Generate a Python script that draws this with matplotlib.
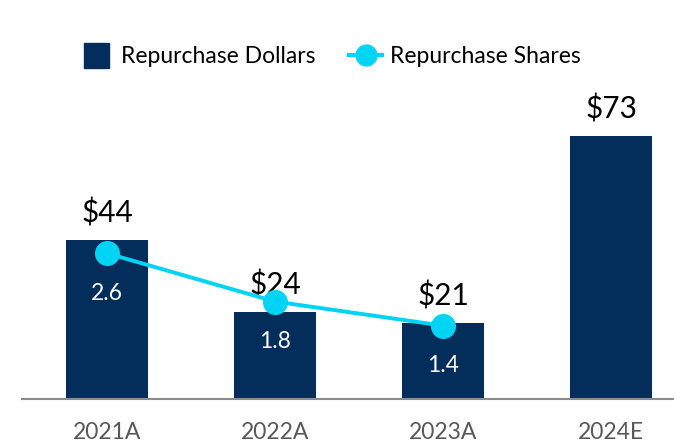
import matplotlib.pyplot as plt
from matplotlib.lines import Line2D

# data
years = ["2021A", "2022A", "2023A", "2024E"]
dollars = [44, 24, 21, 73]
share_years = ["2021A", "2022A", "2023A"]
shares = [2.6, 1.8, 1.4]

navy = "#032D5A"
cyan = "#00D4F5"

plt.rcParams["font.family"] = ["Lato", "DejaVu Sans"]

fig = plt.figure(figsize=(6.74, 4.45), dpi=100)
ax = fig.add_axes([22 / 674, 46.5 / 445, 652 / 674, 368.5 / 445])

x = list(range(len(years)))
ax.bar(x, dollars, width=0.49, color=navy, zorder=2)
ax.set_xlim(-0.506, 3.375)
ax.set_ylim(0, 102.4)

for xi, v in zip(x, dollars):
    ax.annotate(f"${v}", (xi, v), xytext=(0, 27), textcoords="offset pixels",
                ha="center", va="center", fontsize=21.5, color="black")

ax.set_xticks(x)
ax.set_xticklabels(years, fontsize=16.5, color="#595959")
ax.tick_params(axis="x", length=0, pad=17)
ax.set_yticks([])
for s in ["top", "left", "right"]:
    ax.spines[s].set_visible(False)
ax.spines["bottom"].set_color("#8C8C8C")
ax.spines["bottom"].set_linewidth(1.5)

# shares on a second axis
ax2 = ax.twinx()
ax2.set_ylim(0.192, 6.303)
sx = [years.index(y) for y in share_years]
ax2.plot(sx, shares, color=cyan, linewidth=2.8, marker="o", markersize=17, zorder=3)
for xi, v in zip(sx, shares):
    ax2.annotate(f"{v}", (xi, v), xytext=(0, -40), textcoords="offset pixels",
                 ha="center", va="center", fontsize=16.5, color="white")
ax2.set_yticks([])
for s in ["top", "left", "right", "bottom"]:
    ax2.spines[s].set_visible(False)

handles = [
    Line2D([], [], marker="s", linestyle="none", markersize=18, color=navy),
    Line2D([], [], color=cyan, linewidth=3, marker="o", markersize=15),
]
fig.legend(handles, ["Repurchase Dollars", "Repurchase Shares"], ncol=2,
           loc="center", bbox_to_anchor=(330.5 / 674, 1 - 56.7 / 445),
           frameon=False, fontsize=16.5, handlelength=1.45, handletextpad=0.36,
           columnspacing=1.45, borderpad=0)

plt.savefig("out.png", dpi=100)
plt.close()
